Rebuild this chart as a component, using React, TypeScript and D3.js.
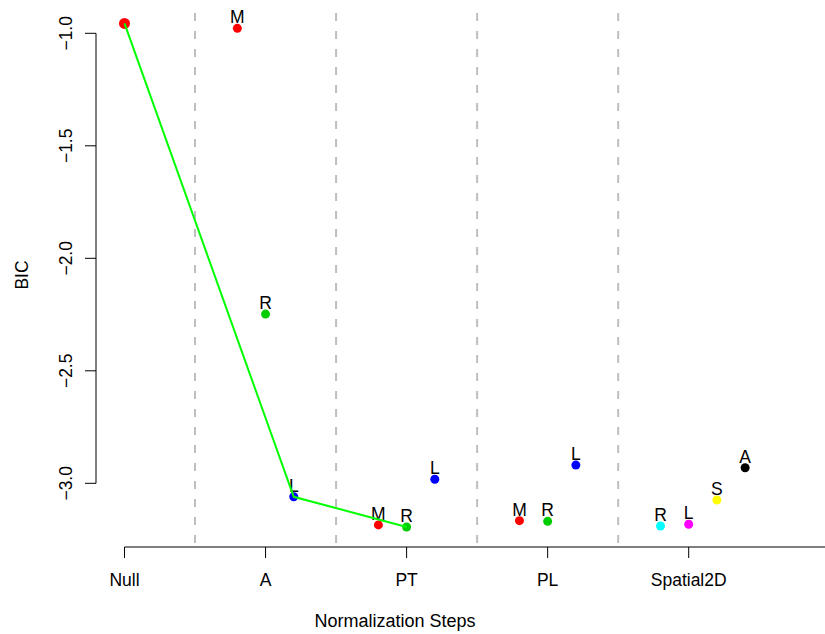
import React from 'react';
import * as d3 from 'd3';

// normalization steps along the x axis
const steps = ['Null', 'A', 'PT', 'PL', 'Spatial2D'];

// every point: x in step units, BIC value, label
const pointX = [1, 1.8, 2, 2.2, 2.8, 3, 3.2, 3.8, 4, 4.2, 4.8, 5, 5.2, 5.4];
const pointBIC = [-0.956, -0.978, -2.248, -3.06, -3.185, -3.194, -2.982, -3.166, -3.169, -2.919, -3.19, -3.182, -3.074, -2.931];
const pointLabels = ['', 'M', 'R', 'L', 'M', 'R', 'L', 'M', 'R', 'L', 'R', 'L', 'S', 'A'];

// chosen path (indices into the arrays above)
const pathIdx = [0, 3, 5];

const yTicks = [-3, -2.5, -2, -1.5, -1];
const separators = [1.5, 2.5, 3.5, 4.5];

const pointColors = ['#FF0000', '#FF0000', '#00CD00', '#0000FF', '#FF0000', '#00CD00', '#0000FF',
  '#FF0000', '#00CD00', '#0000FF', '#00FFFF', '#FF00FF', '#FFFF00', '#000000'];

const W = 825;
const H = 634;
const font = '"Liberation Sans", Arial, Helvetica, sans-serif';

const App = () => {
  const x = d3.scaleLinear().domain([1, 5]).range([124.5, 688.7]);
  const y = d3.scaleLinear().domain([-3, -1]).range([483.3, 33.3]);
  const fmt = d3.format('.1f');
  const axisY = 547;
  const axisX = 96;
  const line = d3.line<number>()
    .x((i) => x(pointX[i]))
    .y((i) => y(pointBIC[i]));

  return (
    <svg width={W} height={H} style={{ position: 'absolute', left: 0, top: 0, background: '#fff' }}
      fontFamily={font} fontSize={17.5}>
      {separators.map((s) => (
        <line key={s} x1={x(s)} x2={x(s)} y1={13} y2={axisY}
          stroke="#BEBEBE" strokeWidth={2} strokeDasharray="8,10" />
      ))}

      {/* x axis */}
      <line x1={x(1)} x2={W} y1={axisY} y2={axisY} stroke="#000" strokeWidth={1} />
      {steps.map((s, i) => (
        <g key={s}>
          <line x1={x(i + 1)} x2={x(i + 1)} y1={axisY} y2={axisY + 11} stroke="#000" />
          <text x={x(i + 1)} y={586} textAnchor="middle">{s}</text>
        </g>
      ))}
      <text x={395} y={627} textAnchor="middle" fontSize={18}>Normalization Steps</text>

      {/* y axis */}
      <line x1={axisX} x2={axisX} y1={y(-1)} y2={y(-3)} stroke="#000" />
      {yTicks.map((t) => (
        <g key={t}>
          <line x1={axisX - 11} x2={axisX} y1={y(t)} y2={y(t)} stroke="#000" />
          <text transform={`translate(72,${y(t)}) rotate(-90)`} textAnchor="middle">{fmt(t)}</text>
        </g>
      ))}
      <text transform="translate(28,275) rotate(-90)" textAnchor="middle">BIC</text>

      {/* points */}
      {pointX.map((px, i) => (
        <g key={i}>
          <circle cx={x(px)} cy={y(pointBIC[i])} r={i === 0 ? 5.5 : 4.5} fill={pointColors[i]} />
          {pointLabels[i] && (
            <text x={x(px)} y={y(pointBIC[i]) - 5} textAnchor="middle">{pointLabels[i]}</text>
          )}
        </g>
      ))}

      <path d={line(pathIdx) || ''} fill="none" stroke="#00FF00" strokeWidth={2} />
    </svg>
  );
};

export default App;
